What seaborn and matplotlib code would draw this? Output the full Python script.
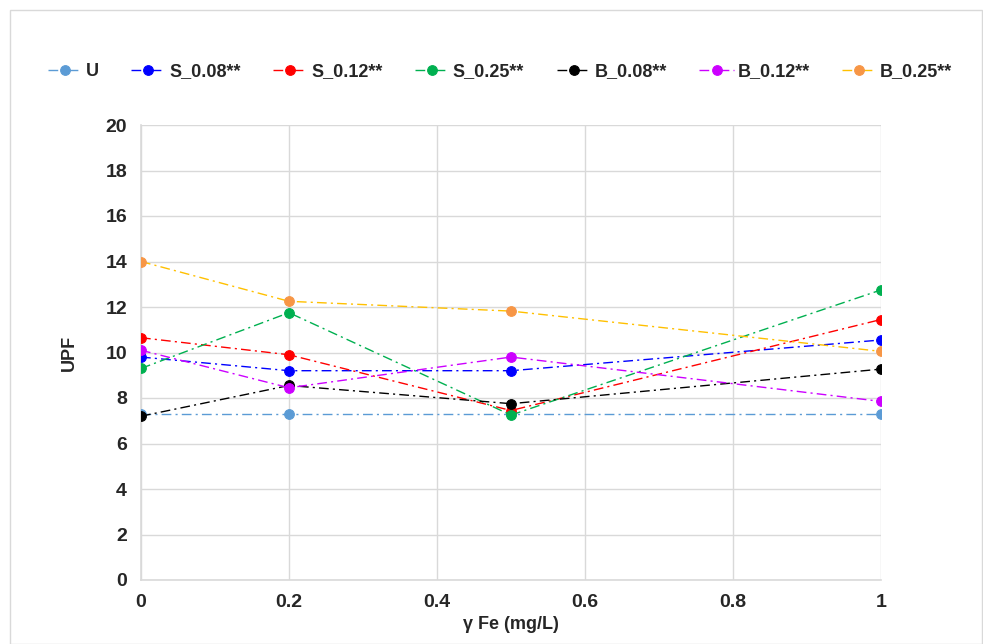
import matplotlib
matplotlib.use("Agg")
import matplotlib.pyplot as plt
import seaborn as sns
import pandas as pd
from matplotlib.patches import Rectangle

sns.set_style("white")
plt.rcParams['font.family'] = ['Liberation Sans', 'DejaVu Sans']

x = [0, 0.2, 0.5, 1]
U = [7.3, 7.3, 7.3, 7.3]
S_008 = [9.8, 9.2, 9.2, 10.55]
S_012 = [10.65, 9.9, 7.45, 11.45]
S_025 = [9.3, 11.75, 7.25, 12.75]
B_008 = [7.2, 8.55, 7.75, 9.27]
B_012 = [10.1, 8.45, 9.8, 7.85]
B_025 = [14.0, 12.25, 11.82, 10.05]

names = ['U', 'S_0.08**', 'S_0.12**', 'S_0.25**', 'B_0.08**', 'B_0.12**', 'B_0.25**']
series = [U, S_008, S_012, S_025, B_008, B_012, B_025]
line_colors = ['#5B9BD5', '#0000FF', '#FF0000', '#00B050', '#000000', '#CC00FF', '#FFC000']
marker_colors = ['#5B9BD5', '#0000FF', '#FF0000', '#00B050', '#000000', '#CC00FF', '#F79646']

fig = plt.figure(figsize=(9.83, 6.44), dpi=100)
ax = fig.add_axes([141/983, 1-580/644, (881-141)/983, (580-125)/644])
fig.patches.append(Rectangle((10/983, 0), 1-10/983-1/983, 1-10/644, transform=fig.transFigure,
                             fill=False, edgecolor='#D9D9D9', linewidth=1))

dash = (0, (7, 3, 1.5, 3))
for name, vals, lc, mc in zip(names, series, line_colors, marker_colors):
    df = pd.DataFrame({'x': x, 'y': vals})
    sns.lineplot(data=df, x='x', y='y', ax=ax, color=lc, linewidth=1.0,
                 linestyle=dash, marker='o', markersize=7, markerfacecolor=mc,
                 markeredgecolor=mc, label=name, zorder=3)

ax.set_xlim(0, 1)
ax.set_ylim(0, 20)
ax.set_xticks([0, 0.2, 0.4, 0.6, 0.8, 1])
ax.set_xticklabels(['0', '0.2', '0.4', '0.6', '0.8', '1'])
ax.set_yticks(range(0, 21, 2))
ax.grid(True, color='#D9D9D9', linewidth=1)
ax.set_axisbelow(True)
for s in ['top', 'right']:
    ax.spines[s].set_visible(False)
for s in ['left', 'bottom']:
    ax.spines[s].set_color('#D9D9D9')
    ax.spines[s].set_linewidth(1.2)
ax.tick_params(axis='both', length=0, labelsize=14, pad=10)
for lab in ax.get_xticklabels() + ax.get_yticklabels():
    lab.set_fontweight('bold')
ax.set_xlabel('γ Fe (mg/L)', fontsize=13, fontweight='bold', labelpad=4)
ax.set_ylabel('UPF', fontsize=13, fontweight='bold', labelpad=20)

ax.legend(loc='center', bbox_to_anchor=(500/983, 1-72/644), bbox_transform=fig.transFigure,
          ncol=7, frameon=False, prop={'weight': 'bold', 'size': 13},
          handlelength=1.9, columnspacing=1.8, handletextpad=0.2, borderaxespad=0)

fig.savefig('out.png', dpi=100)
